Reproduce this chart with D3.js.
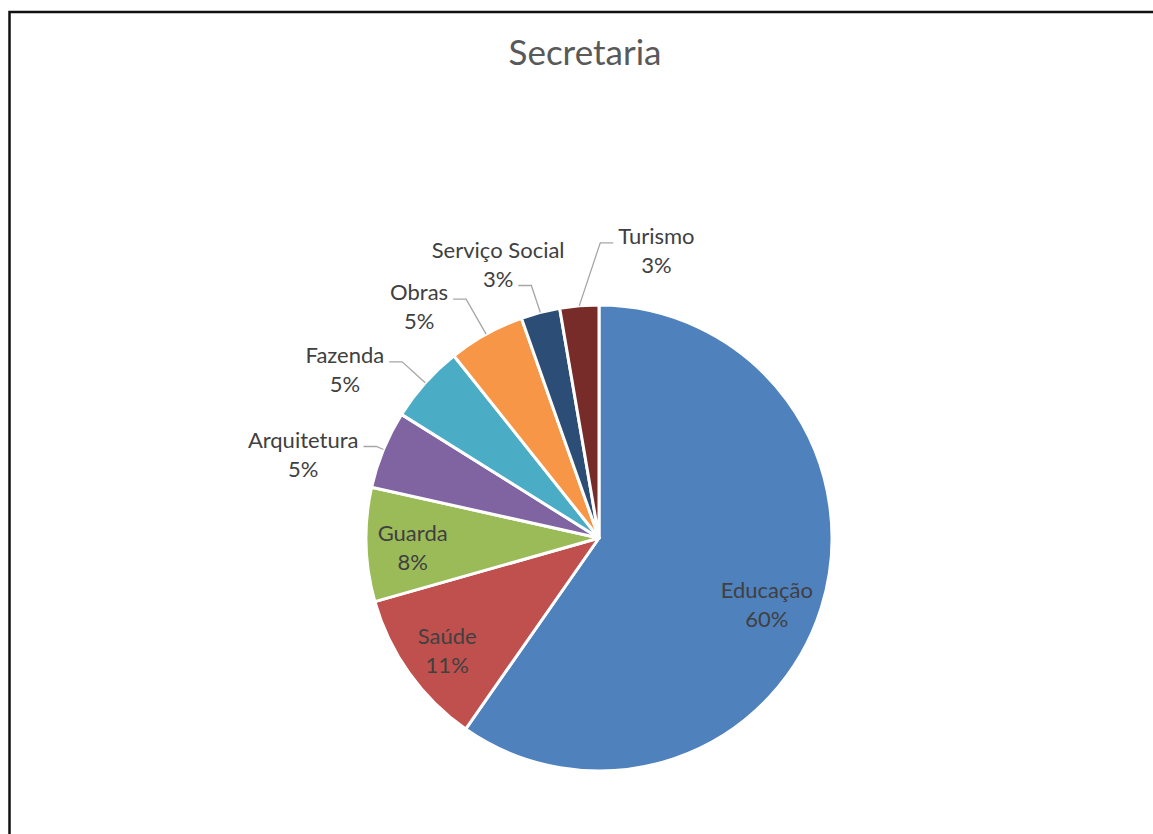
<!DOCTYPE html>
<html>
<head>
<meta charset="utf-8">
<script src="https://cdn.jsdelivr.net/npm/d3@7"></script>
<style>
  html, body { margin: 0; padding: 0; background: #fff; }
  svg { display: block; }
  text { font-family: Lato, "Open Sans", sans-serif; }
</style>
</head>
<body>
<svg id="chart" width="1153" height="834"></svg>
<script>
// ---- data ----
const categories = ["Educação", "Saúde", "Guarda", "Arquitetura", "Fazenda", "Obras", "Serviço Social", "Turismo"];
const values = [59.7, 10.9, 7.9, 5.4, 5.4, 5.3, 2.7, 2.7];
const percentLabels = ["60%", "11%", "8%", "5%", "5%", "5%", "3%", "3%"];
const colors = ["#4F81BD", "#C0504D", "#9BBB59", "#8064A2", "#4BACC6", "#F79646", "#2C4D75", "#772C2A"];
const title = "Secretaria";

// ---- layout ----
const W = 1153, H = 834;
const cx = 599, cy = 538, R = 233;
const labelFont = 22, lineGap = 29;
// inside labels: nudges from polar(mid, 0.8R); outside: leader end offset from edge point
const labelLayout = [
  { inside: true, dx: -10, dy: 12 },
  { inside: true, dx: 0, dy: 5 },
  { inside: true, dx: 0, dy: 5 },
  { inside: false, ex: -20, ey: -3, side: "left", line: 1 },
  { inside: false, ex: -36, ey: -21, side: "left", line: 1 },
  { inside: false, ex: -33, ey: -35, side: "left", line: 1 },
  { inside: false, ex: -22, ey: -27, side: "left", line: 2 },
  { inside: false, ex: 34, ey: -63, side: "right", line: 1 }
];

const svg = d3.select("#chart");

// frame (chart area border, cut by the viewport on the right and bottom)
svg.append("rect")
  .attr("x", 9.5).attr("y", 12)
  .attr("width", W + 50).attr("height", H + 50)
  .attr("fill", "none").attr("stroke", "#111").attr("stroke-width", 2.5);

svg.append("text")
  .attr("x", 585).attr("y", 65)
  .attr("text-anchor", "middle")
  .attr("font-size", 35)
  .attr("fill", "#595959")
  .text(title);

const data = categories.map((c, i) => ({ name: c, value: values[i], pct: percentLabels[i], color: colors[i], lay: labelLayout[i] }));

const pie = d3.pie().sort(null).value(d => d.value);
const arcs = pie(data);
const arc = d3.arc().innerRadius(0).outerRadius(R);

const g = svg.append("g").attr("transform", `translate(${cx},${cy})`);

g.selectAll("path.slice")
  .data(arcs)
  .enter().append("path")
  .attr("class", "slice")
  .attr("d", arc)
  .attr("fill", d => d.data.color)
  .attr("stroke", "#fff")
  .attr("stroke-width", 3)
  .attr("stroke-linejoin", "round");

function polar(a, r) { return [r * Math.sin(a), -r * Math.cos(a)]; }

arcs.forEach(a => {
  const d = a.data, L = d.lay;
  const mid = (a.startAngle + a.endAngle) / 2;
  if (L.inside) {
    const [px, py] = polar(mid, 0.8 * R);
    const x = px + L.dx, y = py + L.dy;
    const t = g.append("text").attr("text-anchor", "middle").attr("font-size", labelFont).attr("fill", "#404040");
    t.append("tspan").attr("x", x).attr("y", y - 7.5).text(d.name);
    t.append("tspan").attr("x", x).attr("y", y - 7.5 + lineGap).text(d.pct);
  } else {
    const [ex, ey] = polar(mid, R);
    const endX = ex + L.ex, endY = ey + L.ey;
    const elbowX = L.side === "left" ? endX + 13 : endX - 13;
    g.append("polyline")
      .attr("points", [[ex, ey], [elbowX, endY], [endX, endY]].map(p => p.join(",")).join(" "))
      .attr("fill", "none").attr("stroke", "#A6A6A6").attr("stroke-width", 1.3);
    const t = g.append("text").attr("text-anchor", "middle").attr("font-size", labelFont).attr("fill", "#404040");
    const s1 = t.append("tspan").text(d.name);
    const s2 = t.append("tspan").text(d.pct);
    const w1 = s1.node().getComputedTextLength();
    const w2 = s2.node().getComputedTextLength();
    const wAttach = L.line === 1 ? w1 : w2;
    const gap = 5;
    const centerX = L.side === "left" ? endX - gap - wAttach / 2 : endX + gap + wAttach / 2;
    const b = endY + 1;
    const b1 = L.line === 1 ? b : b - lineGap;
    s1.attr("x", centerX).attr("y", b1);
    s2.attr("x", centerX).attr("y", b1 + lineGap);
  }
});
</script>
</body>
</html>
